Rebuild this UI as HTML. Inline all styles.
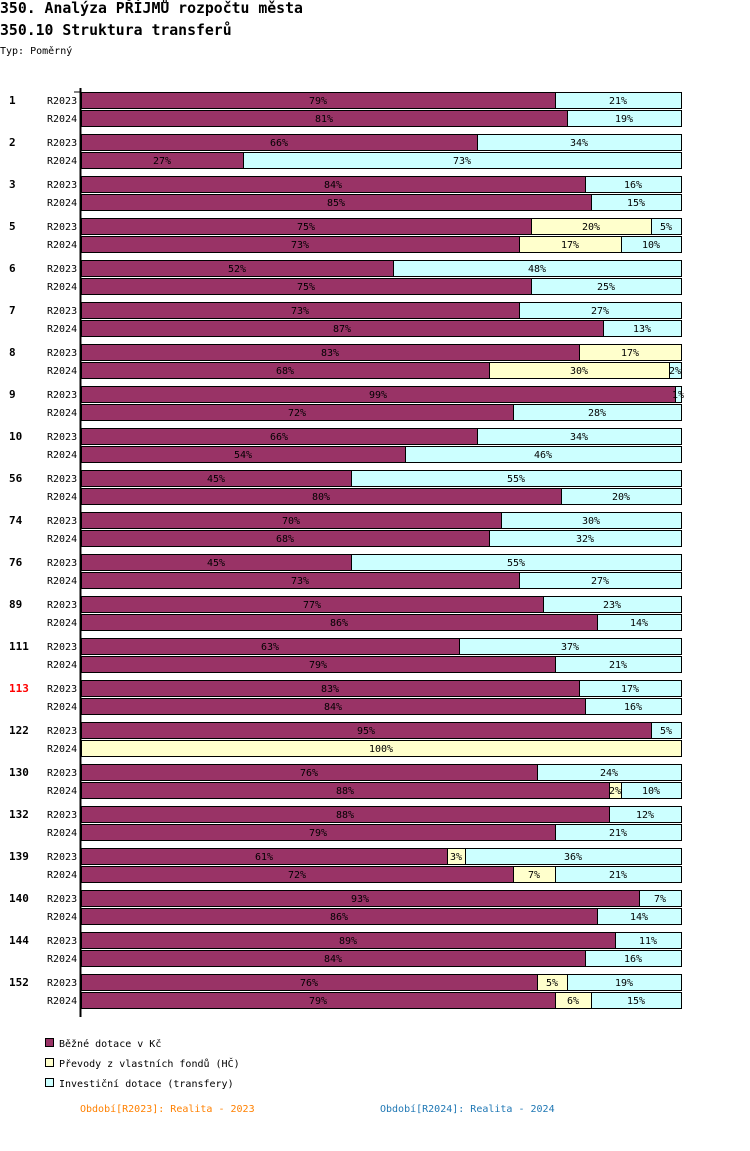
<!DOCTYPE html>
<html><head><meta charset="utf-8"><style>
body{margin:0;background:#fff;}
svg text{font-family:"DejaVu Sans Mono","Liberation Mono",monospace;}
</style></head><body>
<svg id="chart" width="750" height="1146" xmlns="http://www.w3.org/2000/svg">
<text x="0" y="13" font-size="14.8" font-weight="bold">350. Analýza PŘÍJMŮ rozpočtu města</text>
<text x="0" y="35" font-size="14.8" font-weight="bold">350.10 Struktura transferů</text>
<text x="0" y="54" font-size="10">Typ: Poměrný</text>
<line x1="80.5" y1="88" x2="80.5" y2="1017" stroke="#000" stroke-width="2"/>
<line x1="74" y1="92" x2="80" y2="92" stroke="#000"/>
<g id="bars"></g>
<g>
<rect x="45.5" y="1038.5" width="8" height="8" fill="#993366" stroke="#000"/>
<text x="59" y="1047" font-size="10">Běžné dotace v Kč</text>
<rect x="45.5" y="1058.5" width="8" height="8" fill="#ffffcc" stroke="#000"/>
<text x="59" y="1067" font-size="10">Převody z vlastních fondů (HČ)</text>
<rect x="45.5" y="1078.5" width="8" height="8" fill="#ccffff" stroke="#000"/>
<text x="59" y="1087" font-size="10">Investiční dotace (transfery)</text>
</g>
<text x="80" y="1112" font-size="10" fill="#ff8000">Období[R2023]: Realita - 2023</text>
<text x="380" y="1112" font-size="10" fill="#1f77b4">Období[R2024]: Realita - 2024</text>
</svg>
<script>
const groups=["1","2","3","5","6","7","8","9","10","56","74","76","89","111","113","122","130","132","139","140","144","152"];
const bezne2023=[79,66,84,75,52,73,83,99,66,45,70,45,77,63,83,95,76,88,61,93,89,76];
const prevody2023=[0,0,0,20,0,0,17,0,0,0,0,0,0,0,0,0,0,0,3,0,0,5];
const invest2023=[21,34,16,5,48,27,0,1,34,55,30,55,23,37,17,5,24,12,36,7,11,19];
const bezne2024=[81,27,85,73,75,87,68,72,54,80,68,73,86,79,84,0,88,79,72,86,84,79];
const prevody2024=[0,0,0,17,0,0,30,0,0,0,0,0,0,0,0,100,2,0,7,0,0,6];
const invest2024=[19,73,15,10,25,13,2,28,46,20,32,27,14,21,16,0,10,21,21,14,16,15];
const highlight="113";
const X0=81,W=600,Y0=92,GAP=42,BH=16;
const xs=v=>v/100*W;
const colors=["#993366","#ffffcc","#ccffff"];
const segNames=["bezne","prevody","investicni"];
const NS="http://www.w3.org/2000/svg";
const g=document.getElementById("bars");
function mk(t,a){const e=document.createElementNS(NS,t);for(const k in a)e.setAttribute(k,a[k]);return e;}
groups.forEach((grp,i)=>{
  const gy=Y0+i*GAP;
  const gl=mk("text",{x:9,y:gy+12,"font-size":11,"font-weight":"bold",fill:grp===highlight?"#ff0000":"#000"});
  gl.textContent=grp;
  
  
  g.appendChild(gl);
  const rows=[[bezne2023[i],prevody2023[i],invest2023[i]],[bezne2024[i],prevody2024[i],invest2024[i]]];
  ["R2023","R2024"].forEach((yr,r)=>{
    const y=gy+r*18;
    const yl=mk("text",{x:47,y:y+12,"font-size":10});
    yl.textContent=yr;
    
    
    g.appendChild(yl);
    let acc=0;
    rows[r].forEach((v,s)=>{
      if(v<=0)return;
      const x=X0+xs(acc),w=xs(v);
      const rc=mk("rect",{x:Math.round(x)+0.5,y:y+0.5,width:Math.max(1,Math.round(x+w)-Math.round(x)),height:BH,fill:colors[s],stroke:"#000"});
      
      
      g.appendChild(rc);
      const t=mk("text",{x:x+w/2,y:y+12,"font-size":10,"text-anchor":"middle"});
      t.textContent=v+"%";
      
      
      g.appendChild(t);
      acc+=v;
    });
  });
});
</script>
</body></html>
